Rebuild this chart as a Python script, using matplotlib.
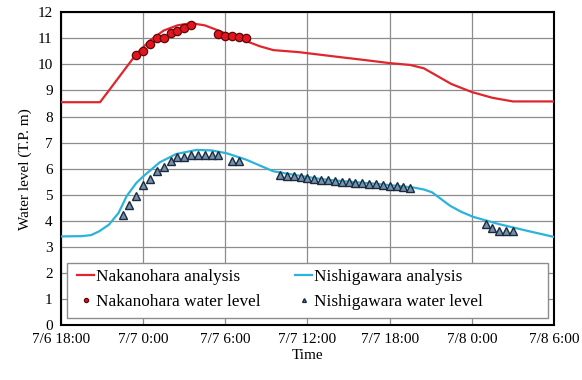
import numpy as np
import matplotlib
matplotlib.use('Agg')
from matplotlib import pyplot as plt
from matplotlib.patches import Rectangle

plt.rcParams['font.family'] = ['Liberation Serif', 'DejaVu Serif']

# hours since 7/6 18:00
naka_t = [0, 2.85, 3.5, 4.3, 5.0, 5.5, 6.5, 7.5, 8.5, 9.5, 10.5, 11.5, 12.5, 13.5,
          14.5, 15.5, 17.4, 19.9, 22, 24, 25.5, 26.5, 27.5, 28.5, 30, 31.5, 33, 36]
naka_v = [8.55, 8.55, 9.0, 9.56, 10.05, 10.4, 10.92, 11.3, 11.5, 11.58, 11.5, 11.3, 11.08, 10.9,
          10.7, 10.55, 10.47, 10.31, 10.18, 10.05, 9.98, 9.85, 9.55, 9.25, 8.94, 8.72, 8.58, 8.58]

nishi_t = [0, 1.5, 2.2, 2.8, 3.5, 4.2, 4.8, 5.5, 6.0, 7.2, 8.4, 9.9, 11, 12.1, 13.5,
           15.5, 17.4, 19, 21, 23, 25.7, 26.5, 27.1, 28.4, 29.2, 30.1, 32, 34, 36]
nishi_v = [3.4, 3.41, 3.45, 3.6, 3.85, 4.3, 4.95, 5.45, 5.7, 6.24, 6.56, 6.72, 6.7, 6.59, 6.35,
           5.9, 5.73, 5.6, 5.5, 5.42, 5.28, 5.2, 5.09, 4.58, 4.35, 4.15, 3.87, 3.62, 3.38]

naka_obs_t = [5.5, 6, 6.5, 7, 7.5, 8, 8.5, 9, 9.5, 11.5, 12, 12.5, 13, 13.5]
naka_obs_v = [10.38, 10.51, 10.79, 11.01, 11.01, 11.22, 11.28, 11.40, 11.51,
              11.15, 11.10, 11.10, 11.05, 11.0]

nishi_obs_t = [4.5, 5, 5.5, 6, 6.5, 7, 7.5, 8, 8.5, 9, 9.5, 10, 10.5, 11, 11.5,
               12.5, 13,
               16, 16.5, 17, 17.5, 18, 18.5, 19, 19.5, 20, 20.5, 21, 21.5, 22, 22.5,
               23, 23.5, 24, 24.5, 25, 25.5,
               31, 31.5, 32, 32.5, 33]
nishi_obs_v = [4.23, 4.60, 4.96, 5.37, 5.60, 5.92, 6.05, 6.28, 6.46, 6.46, 6.54, 6.54, 6.51, 6.51, 6.51,
               6.31, 6.28,
               5.76, 5.70, 5.70, 5.68, 5.64, 5.62, 5.58, 5.55, 5.52, 5.50, 5.48, 5.46, 5.44, 5.42,
               5.40, 5.38, 5.35, 5.33, 5.30, 5.26,
               3.87, 3.72, 3.62, 3.62, 3.59]

xtick_pos = [0, 6, 12, 18, 24, 30, 36]
xtick_lab = ['7/6 18:00', '7/7 0:00', '7/7 6:00', '7/7 12:00', '7/7 18:00', '7/8 0:00', '7/8 6:00']

fig = plt.figure(figsize=(5.82, 3.80), dpi=100)
ax = fig.add_axes([0.1048, 0.1447, 0.8471, 0.8229])

l1, = ax.plot(naka_t, naka_v, color='#e0262c', lw=1.6, label='Nakanohara analysis', zorder=3)
l2, = ax.plot(nishi_t, nishi_v, color='#2bb3d9', lw=1.6, label='Nishigawara analysis', zorder=3)
m1, = ax.plot(naka_obs_t, naka_obs_v, 'o', ms=6, mfc='#e3141e', mec='#5a0a0a', mew=0.9,
              label='Nakanohara water level', zorder=4)
m2, = ax.plot(nishi_obs_t, nishi_obs_v, '^', ms=5.5, mfc='#7391b2', mec='#1c2a3a', mew=1.0,
              label='Nishigawara water level', zorder=4)

ax.set_xlim(0, 36)
ax.set_ylim(0, 12)
ax.set_xticks(xtick_pos)
ax.set_xticklabels(xtick_lab)
ax.set_yticks(range(0, 13))
ax.tick_params(labelsize=11, length=0, pad=6)
ax.grid(True, color='#8c8c8c', lw=0.9)
for s in ax.spines.values():
    s.set_color('black')
    s.set_linewidth(1.5)
ax.set_xlabel('Time', fontsize=11, labelpad=2)
ax.set_ylabel('Water level (T.P. m)', fontsize=11, labelpad=4)

# legend box (wide frame as in the original)
ax.add_patch(Rectangle((0.0128, 0.021), 0.9757, 0.178, transform=ax.transAxes,
                       facecolor='white', edgecolor='#8c8c8c', lw=1.0, zorder=5))
leg = ax.legend([l1, m1, l2, m2],
                [h.get_label() for h in [l1, m1, l2, m2]],
                ncol=2, loc='center left', bbox_to_anchor=(0.0325, 0.113), fontsize=12.4,
                frameon=False, handlelength=1.0, handletextpad=0.1, columnspacing=2.0,
                markerscale=0.5, borderpad=0, borderaxespad=0, labelspacing=0.55)
leg.set_zorder(6)

fig.savefig('out.png', dpi=100)
